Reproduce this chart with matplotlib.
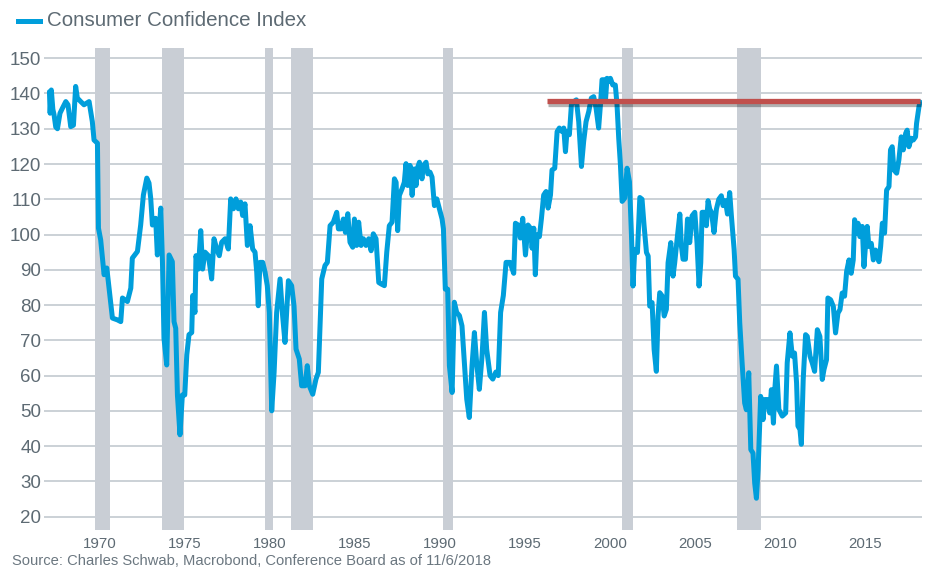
import matplotlib
matplotlib.use("Agg")
import matplotlib.pyplot as plt
import matplotlib.patheffects as pe
from matplotlib.lines import Line2D

plt.rcParams['font.family'] = ['Liberation Sans', 'DejaVu Sans']

# ---------------- data ----------------
dates = [
    1967.35, 1967.39, 1967.46, 1967.55, 1967.62, 1967.72, 1967.82, 1967.97, 1968.11, 1968.31,
    1968.44, 1968.60, 1968.76, 1968.89, 1968.99, 1969.19, 1969.38, 1969.68, 1969.87, 1969.97,
    1970.17, 1970.23, 1970.36, 1970.56, 1970.72, 1970.85, 1971.05, 1971.34, 1971.54, 1971.64,
    1971.93, 1972.13, 1972.22, 1972.52, 1972.71, 1972.87, 1973.07, 1973.20, 1973.30, 1973.40,
    1973.59, 1973.69, 1973.89, 1973.99, 1974.08, 1974.24, 1974.38, 1974.57, 1974.67, 1974.77,
    1974.87, 1975.02, 1975.16, 1975.30, 1975.42, 1975.55, 1975.71, 1975.77,
    1975.90, 1975.96, 1976.10, 1976.24, 1976.35, 1976.49, 1976.69, 1976.88, 1977.02, 1977.18,
    1977.33, 1977.47, 1977.67, 1977.86, 1978.00, 1978.16, 1978.31, 1978.45, 1978.59, 1978.70,
    1978.84, 1978.98, 1979.14, 1979.29, 1979.43, 1979.53, 1979.62, 1979.72, 1979.88, 1980.02,
    1980.15, 1980.27, 1980.41, 1980.55, 1980.70, 1980.90, 1981.05, 1981.19, 1981.39, 1981.58,
    1981.72, 1981.84, 1982.03, 1982.17, 1982.37, 1982.50, 1982.62, 1982.82, 1983.01, 1983.15,
    1983.35, 1983.54, 1983.68, 1983.84, 1984.03, 1984.23, 1984.33,
    1984.48, 1984.62, 1984.74, 1984.88, 1985.01, 1985.17, 1985.27, 1985.40, 1985.52, 1985.66,
    1985.80, 1985.95, 1986.11, 1986.25, 1986.38, 1986.54, 1986.70, 1986.83, 1987.03, 1987.17,
    1987.32, 1987.48, 1987.62, 1987.72, 1987.81, 1987.91, 1988.07, 1988.20, 1988.30, 1988.40,
    1988.54, 1988.66, 1988.79, 1988.89, 1988.99, 1989.09, 1989.24, 1989.32, 1989.48, 1989.58,
    1989.71, 1989.83, 1989.97, 1990.11, 1990.26, 1990.42, 1990.50, 1990.61, 1990.75, 1990.85,
    1991.01, 1991.14, 1991.28, 1991.44, 1991.59, 1991.73, 1991.87, 1992.02, 1992.18, 1992.32,
    1992.45, 1992.61, 1992.77, 1992.91,
    1993.04, 1993.24, 1993.40, 1993.58, 1993.72, 1993.86, 1994.02, 1994.18, 1994.41, 1994.63,
    1994.73, 1994.89, 1995.02, 1995.16, 1995.32, 1995.47, 1995.61, 1995.71, 1995.81, 1995.90,
    1996.00, 1996.14, 1996.26, 1996.39, 1996.53, 1996.65, 1996.79, 1996.88, 1997.04, 1997.18,
    1997.31, 1997.47, 1997.57, 1997.67, 1997.76, 1997.90, 1998.02, 1998.16, 1998.31, 1998.45,
    1998.61, 1998.74, 1998.88, 1999.04, 1999.19, 1999.33, 1999.47, 1999.62, 1999.74, 1999.82,
    1999.92, 2000.02, 2000.11, 2000.21, 2000.31, 2000.45, 2000.60, 2000.70, 2000.80, 2000.90,
    2001.00, 2001.15, 2001.29, 2001.43,
    2001.55, 2001.64, 2001.74, 2001.90, 2002.04, 2002.17, 2002.29, 2002.43, 2002.53, 2002.62,
    2002.76, 2002.88, 2003.01, 2003.11, 2003.21, 2003.35, 2003.47, 2003.60, 2003.70, 2003.86,
    2003.99, 2004.09, 2004.25, 2004.39, 2004.48, 2004.58, 2004.72, 2004.84, 2004.97, 2005.11,
    2005.27, 2005.40, 2005.52, 2005.62, 2005.70, 2005.85, 2005.95, 2006.05, 2006.15, 2006.25,
    2006.40, 2006.54, 2006.68, 2006.83, 2006.93, 2007.07, 2007.19, 2007.32, 2007.42, 2007.58,
    2007.66, 2007.81, 2007.91, 2008.05, 2008.20, 2008.30, 2008.44, 2008.56, 2008.69, 2008.79,
    2008.89, 2008.99, 2009.14, 2009.28, 2009.38, 2009.54, 2009.67, 2009.77, 2009.89, 2009.97,
    2010.07, 2010.21, 2010.41, 2010.61, 2010.70, 2010.86, 2011.00, 2011.13, 2011.25, 2011.33,
    2011.45, 2011.53, 2011.64, 2011.78, 2011.88, 2012.04, 2012.17, 2012.31, 2012.47, 2012.62,
    2012.76, 2012.86, 2013.01, 2013.09, 2013.25, 2013.41, 2013.54, 2013.68, 2013.80, 2013.93,
    2014.07, 2014.19, 2014.33, 2014.46, 2014.58, 2014.66, 2014.78, 2014.86, 2014.97, 2015.11,
    2015.21, 2015.31, 2015.40, 2015.50, 2015.64, 2015.76, 2015.89, 2015.99, 2016.09, 2016.19,
    2016.29, 2016.42, 2016.54, 2016.68, 2016.77, 2016.87, 2016.97, 2017.13, 2017.26, 2017.40,
    2017.52, 2017.66, 2017.75, 2017.85, 2017.99, 2018.11, 2018.24, 2018.30, 2018.38, 2018.44,
    2018.50,
]

cci = [
    140.5, 134.4, 141.0, 135.5, 134.0, 130.5, 130.0, 134.4, 135.8, 137.7,
    136.8, 130.6, 131.0, 142.0, 138.7, 137.7, 136.8, 137.7, 132.0, 126.8,
    125.9, 101.8, 98.5, 88.6, 90.5, 84.8, 76.3, 75.8, 75.3, 82.0,
    81.0, 84.8, 93.3, 95.2, 102.7, 111.2, 116.0, 114.6, 110.3, 102.7,
    104.6, 94.2, 107.5, 92.3, 70.6, 63.0, 94.2, 92.3, 75.3, 73.4,
    54.5, 43.2, 54.5, 54.5, 65.9, 71.6, 72.2, 82.7,
    77.9, 94.0, 90.2, 101.1, 90.2, 95.0, 94.0, 87.4, 98.8, 95.9,
    94.0, 97.8, 98.8, 95.9, 110.1, 107.3, 110.1, 107.3, 109.2, 105.4,
    108.7, 96.9, 102.5, 95.9, 95.0, 89.3, 79.8, 92.1, 92.1, 89.3,
    85.5, 77.9, 50.0, 60.9, 77.9, 87.4, 77.0, 69.4, 86.9, 85.5,
    79.8, 67.5, 64.7, 57.1, 57.1, 62.8, 57.1, 54.7, 59.0, 60.9,
    87.4, 91.2, 92.1, 102.5, 103.5, 106.3, 101.6,
    101.6, 104.4, 100.6, 105.9, 97.8, 96.4, 104.4, 96.9, 103.5, 96.9,
    98.8, 96.9, 98.8, 95.4, 100.2, 98.8, 86.4, 86.0, 85.5, 95.0,
    102.5, 103.5, 115.8, 114.8, 101.1, 111.1, 113.0, 114.8, 120.1, 113.9,
    119.6, 111.1, 118.6, 113.9, 119.1, 120.5, 115.8, 119.6, 120.5, 117.2,
    117.7, 116.3, 108.2, 110.1, 107.3, 104.4, 101.6, 84.5, 84.5, 62.8,
    55.2, 80.8, 77.9, 77.0, 74.1, 63.7, 53.3, 48.1, 62.8, 72.2,
    63.7, 56.1, 65.6, 77.9,
    67.5, 60.0, 59.0, 61.0, 60.0, 77.9, 82.7, 92.1, 92.1, 89.0,
    103.2, 102.7, 99.0, 104.6, 94.2, 102.7, 101.8, 96.1, 101.8, 88.6,
    99.9, 99.4, 104.6, 111.2, 112.2, 107.5, 111.2, 118.3, 118.8, 129.2,
    130.2, 129.2, 130.2, 123.5, 129.2, 128.3, 136.8, 137.7, 138.2, 132.0,
    119.3, 126.4, 132.0, 134.9, 138.7, 139.1, 135.8, 130.2, 137.7, 143.9,
    143.9, 138.0, 144.3, 143.4, 144.3, 142.4, 142.4, 136.8, 127.3, 119.8,
    109.4, 110.3, 118.8, 115.0,
    99.6, 85.4, 95.8, 94.9, 110.5, 110.0, 102.5, 94.9, 93.9, 79.7,
    80.7, 67.4, 61.2, 76.9, 83.5, 82.6, 76.9, 78.8, 92.0, 97.7,
    88.2, 92.0, 99.6, 105.8, 96.8, 93.0, 93.0, 104.4, 97.7, 105.3,
    106.3, 97.7, 85.4, 92.0, 106.3, 106.3, 102.5, 109.6, 107.2, 106.3,
    100.6, 107.2, 110.0, 111.0, 108.2, 109.6, 105.8, 111.9, 105.3, 95.8,
    88.2, 87.3, 75.0, 63.6, 52.2, 50.3, 60.8, 39.0, 38.0, 29.5,
    25.2, 33.3, 54.1, 47.5, 53.2, 53.2, 49.4, 56.0, 46.5, 56.0,
    62.7, 50.4, 48.5, 49.4, 63.6, 72.1, 65.5, 66.4, 57.9, 45.7,
    44.7, 40.5, 58.9, 71.6, 71.1, 65.5, 63.6, 61.2, 73.0, 71.1,
    58.9, 61.7, 64.5, 82.0, 81.5, 79.6, 72.1, 77.7, 78.7, 83.4,
    82.5, 89.5, 92.8, 89.0, 92.8, 104.2, 100.4, 103.2, 99.4, 102.3,
    90.9, 97.5, 102.3, 96.6, 97.5, 92.8, 95.6, 94.7, 92.3, 96.6,
    103.2, 100.4, 112.6, 113.6, 124.0, 124.9, 118.3, 117.4, 121.1, 127.7,
    124.0, 128.7, 129.6, 124.9, 127.3, 126.8, 127.7, 131.5, 134.3, 136.2,
    137.6,
]

recession_start = [1970.03, 1973.97, 1980.02, 1981.55, 1990.48, 2000.99, 2007.75]
recession_end = [1970.91, 1975.26, 1980.49, 1982.84, 1991.06, 2001.64, 2009.16]

prior_peak_level = 137.9
prior_peak_from = 1996.59
prior_peak_to = 2018.50

y_ticks = list(range(20, 151, 10))
x_tick_years = list(range(1970, 2016, 5))

series_label = "Consumer Confidence Index"
source_note = "Source: Charles Schwab, Macrobond, Conference Board as of 11/6/2018"

# ---------------- styling ----------------
BLUE = '#009edb'
RED = '#c0504d'
BAND = '#c9ced5'
GRID = '#c2c9d0'
TEXT = '#5d6a73'

W, H = 927, 568
fig = plt.figure(figsize=(W / 100, H / 100), dpi=100)
left, right, top, bottom = 44, 922, 48, 530
ax = fig.add_axes([left / W, 1 - bottom / H, (right - left) / W, (bottom - top) / H])

ax.set_xlim(1967.03, 2018.62)
ax.set_ylim(16.2, 152.9)
for s in ax.spines.values():
    s.set_visible(False)

for y in y_ticks:
    ax.axhline(y, color=GRID, lw=1.2, zorder=1)

for s, e in zip(recession_start, recession_end):
    ax.axvspan(s, e, color=BAND, lw=0, zorder=2)

ax.plot(dates, cci, color=BLUE, lw=3.6, zorder=3,
        solid_joinstyle='round', solid_capstyle='round')

ax.plot([prior_peak_from, prior_peak_to], [prior_peak_level, prior_peak_level],
        color=RED, lw=3.8, zorder=4, solid_capstyle='butt',
        path_effects=[pe.SimpleLineShadow(offset=(0.6, -2.0), shadow_color='black', alpha=0.3),
                      pe.Normal()])

ax.set_yticks(y_ticks)
ax.set_yticklabels([str(v) for v in y_ticks])
ax.set_xticks([yr + 0.3 for yr in x_tick_years])   # labels sit just inside each year
ax.set_xticklabels([str(yr) for yr in x_tick_years])
ax.tick_params(axis='y', length=0, pad=2, labelsize=13.5, labelcolor=TEXT)
ax.tick_params(axis='x', length=0, pad=5, labelsize=10.8, labelcolor=TEXT)

# legend
fig.add_artist(Line2D([18 / W, 40 / W], [1 - 21 / H, 1 - 21 / H], transform=fig.transFigure,
                      color=BLUE, lw=3.6))
fig.text(47 / W, 1 - 21 / H, series_label, ha='left', va='center', fontsize=14.8, color=TEXT)

fig.text(12 / W, 1 - 561 / H, source_note, ha='left', va='center', fontsize=10.6, color='#6b7780')

fig.savefig('out.png', dpi=100)
